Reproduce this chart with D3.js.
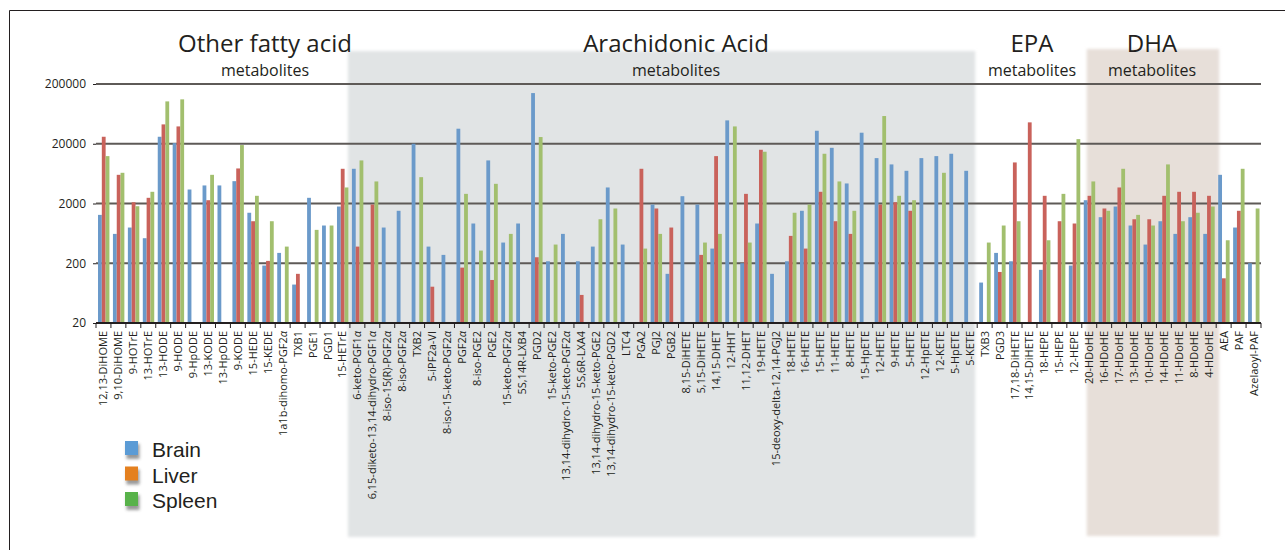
<!DOCTYPE html>
<html>
<head>
<meta charset="utf-8">
<script src="https://cdn.jsdelivr.net/npm/d3@7"></script>
<style>
  body { margin: 0; background: #fff; }
  text { font-family: "Open Sans", "Noto Sans", sans-serif; fill: #231f20; }
</style>
</head>
<body>
<div id="chart"></div>
<script>
// Eicosanoid levels per tissue (log scale)
const categories = [
  "12,13-DiHOME", "9,10-DiHOME", "9-HOTrE", "13-HOTrE", "13-HODE", "9-HODE", "9-HpODE",
  "13-KODE", "13-HpODE", "9-KODE", "15-HEDE", "15-KEDE", "1a1b-dihomo-PGF2α", "TXB1",
  "PGE1", "PGD1", "15-HETrE",
  "6-keto-PGF1α", "6,15-diketo-13,14-dihydro-PGF1α", "8-iso-15(R)-PGF2α", "8-iso-PGF2α",
  "TXB2", "5-iPF2a-VI", "8-iso-15-keto-PGF2α", "PGF2α", "8-iso-PGE2", "PGE2",
  "15-keto-PGF2α", "5S,14R-LXB4", "PGD2", "15-keto-PGE2", "13,14-dihydro-15-keto-PGF2α",
  "5S,6R-LXA4", "13,14-dihydro-15-keto-PGE2", "13,14-dihydro-15-keto-PGD2", "LTC4",
  "PGA2", "PGJ2", "PGB2", "8,15-DiHETE", "5,15-DiHETE", "14,15-DHET", "12-HHT",
  "11,12-DHET", "19-HETE", "15-deoxy-delta-12,14-PGJ2", "18-HETE", "16-HETE", "15-HETE",
  "11-HETE", "8-HETE", "15-HpETE", "12-HETE", "9-HETE", "5-HETE", "12-HpETE", "12-KETE",
  "5-HpETE", "5-KETE",
  "TXB3", "PGD3", "17,18-DiHETE", "14,15-DiHETE", "18-HEPE", "15-HEPE", "12-HEPE",
  "20-HDoHE", "16-HDoHE", "17-HDoHE", "13-HDoHE", "10-HDoHE", "14-HDoHE", "11-HDoHE",
  "8-HDoHE", "4-HDoHE",
  "AEA", "PAF", "Azelaoyl-PAF"
];

const brain = [
  1290, 620, 792, 525, 26180, 20500, 3430, 4010, 4010, 4730, 1400, 183, 298, 88, 2490, 856, 1780,
  7620, null, 792, 1510, 20000, 380, 276, 35700, 925, 10520, 444, 925, 141000, 216, 620,
  216, 380, 3710, 411, null, 1920, 133, 2650, 1920, 352, 49200, 200, 925, 133, 216, 1510,
  33000, 17100, 4330, 30600, 11500, 9020, 7050, 11500, 12420, 13600, 7050,
  95, 298, 216, null, 155, null, 183,
  2270, 1180, 1780, 856, 411, 1010, 620, 1180, 620,
  6040, 792, 200
];
const liver = [
  26180, 6040, 2100, 2490, 42180, 39000, null, 2270, null, 7720, 1010, 219, null, 133, null, null, 7620,
  380, 1920, null, null, null, 81, null, 169, null, 105, null, null, 252, null, null,
  59, null, null, null, 7620, 1650, 792, null, 276, 12420, null, 2900, 15860, null, 574, 352,
  3140, 1010, 620, null, 1920, 2100, 1510, null, null, null, null,
  null, 143, 9730, 45600, 2690, 1010, 925,
  2690, 1650, 3710, 1090, 1090, 2690, 3140, 3140, 2690,
  112, 1510, null
];
const spleen = [
  12420, 6530, 1800, 3140, 102300, 110700, null, 6040, null, 19000, 2690, 1010, 380, null, 724, 856, 3710,
  10520, 4680, null, null, 5520, null, null, 2900, 326, 4270, 620, null, 25900, 411, null,
  null, 1090, 1650, null, 352, 620, null, null, 444, 620, 39000, 444, 14700, null, 1400, 1920,
  13600, 4680, 1510, null, 58200, 2690, 2270, null, 6530, null, null,
  444, 856, 1010, null, 485, 2900, 23900,
  4680, 1510, 7620, 1290, 856, 9020, 1010, 1400, 1780,
  485, 7620, 1650
];

const seriesNames = ["Brain", "Liver", "Spleen"];
const barColors = ["#6b9aca", "#c9625b", "#a2bf6e"];
const legendColors = ["#5b9bd5", "#e4801f", "#58b24a"];
const yTicks = [20, 200, 2000, 20000, 200000];

// group headings: [title, subtitle, centre x]
const groups = [
  ["Other fatty acid", "metabolites", 265],
  ["Arachidonic Acid", "metabolites", 676],
  ["EPA", "metabolites", 1032],
  ["DHA", "metabolites", 1152]
];

const W = 1285, H = 550;
const svg = d3.select("#chart").append("svg")
  .attr("width", W)
  .attr("height", H);

const defs = svg.append("defs");
defs.append("filter").attr("id", "soft")
  .attr("x", "-5%").attr("y", "-5%").attr("width", "110%").attr("height", "110%")
  .append("feGaussianBlur").attr("stdDeviation", 1.6);
defs.append("filter").attr("id", "shadow")
  .attr("x", "-50%").attr("y", "-50%").attr("width", "200%").attr("height", "200%")
  .append("feGaussianBlur").attr("stdDeviation", 1.5);

const x = d3.scaleBand()
  .domain(categories)
  .range([96, 1261]);

const x1 = d3.scaleBand()
  .domain(seriesNames)
  .range([2, x.bandwidth() - 1.5]);

const y = d3.scaleLog()
  .domain([20, 200000])
  .range([323, 84]);

// frame
svg.append("path")
  .attr("d", "M9.5,560 V10.5 H1285")
  .attr("fill", "none")
  .attr("stroke", "#231f20")
  .attr("stroke-width", 1);

// shaded regions
const aaStart = x("6-keto-PGF1α"), aaEnd = x("5-KETE") + x.bandwidth();
svg.append("rect")
  .attr("x", aaStart - 2).attr("y", 51)
  .attr("width", aaEnd - aaStart).attr("height", 486)
  .attr("fill", "#e1e4e5")
  .attr("filter", "url(#soft)");

const dhaStart = x("20-HDoHE"), dhaEnd = x("4-HDoHE") + x.bandwidth();
svg.append("rect")
  .attr("x", dhaStart + 5).attr("y", 49)
  .attr("width", dhaEnd - dhaStart - 2).attr("height", 487)
  .attr("fill", "#e7dfd9")
  .attr("filter", "url(#soft)");

// gridlines
svg.append("g").selectAll("line")
  .data(yTicks.slice(1))
  .join("line")
    .attr("x1", 96).attr("x2", 1261)
    .attr("y1", d => y(d)).attr("y2", d => y(d))
    .attr("stroke", "#5e5a57")
    .attr("stroke-width", 2);

// y axis labels
const yAxis = svg.append("g")
  .attr("transform", "translate(96,0)")
  .call(d3.axisLeft(y).tickValues(yTicks).tickFormat(d3.format("d")).tickSize(3).tickPadding(7));
yAxis.select(".domain").remove();
yAxis.selectAll(".tick line").attr("stroke", "#231f20");
yAxis.selectAll("text")
  .style("font-size", "12px")
  .style("font-family", "'Open Sans', sans-serif")
  .attr("fill", "#231f20");

// bars
const table = categories.map((c, i) => ({
  cat: c,
  vals: [brain[i], liver[i], spleen[i]]
}));

svg.append("g").selectAll("g")
  .data(table)
  .join("g")
    .attr("transform", d => `translate(${x(d.cat)},0)`)
  .selectAll("rect")
  .data(d => d.vals.map((v, k) => ({ v, k })).filter(e => e.v != null))
  .join("rect")
    .attr("x", e => x1(seriesNames[e.k]))
    .attr("width", x1.bandwidth())
    .attr("y", e => y(e.v))
    .attr("height", e => y(20) - y(e.v))
    .attr("fill", e => barColors[e.k]);

// x axis baseline and ticks
const xAxis = svg.append("g")
  .attr("transform", `translate(0,${y(20)})`);
xAxis.append("line")
  .attr("x1", 96).attr("x2", 1261)
  .attr("stroke", "#231f20").attr("stroke-width", 2);
xAxis.selectAll("line.tk")
  .data(categories.concat([null]))
  .join("line")
    .attr("class", "tk")
    .attr("x1", (d, i) => d ? x(d) : x(categories[categories.length - 1]) + x.bandwidth())
    .attr("x2", (d, i) => d ? x(d) : x(categories[categories.length - 1]) + x.bandwidth())
    .attr("y1", 0).attr("y2", 5)
    .attr("stroke", "#231f20").attr("stroke-width", 1);

// category labels (rotated, alpha in italics)
const lbl = svg.append("g").selectAll("text")
  .data(categories)
  .join("text")
    .attr("transform", d => `translate(${x(d) + x.bandwidth() / 2 + 4},331) rotate(-90)`)
    .attr("text-anchor", "end")
    .style("font-size", "11px");
lbl.each(function(d) {
  const parts = d.split("α");
  const t = d3.select(this);
  parts.forEach((p, i) => {
    t.append("tspan").text(p);
    if (i < parts.length - 1) t.append("tspan").style("font-style", "italic").text("α");
  });
});

// group headings
const gh = svg.append("g").selectAll("g")
  .data(groups)
  .join("g");
gh.append("text")
  .attr("x", d => d[2]).attr("y", 52)
  .attr("text-anchor", "middle")
  .style("font-size", "24px")
  .text(d => d[0]);
gh.append("text")
  .attr("x", d => d[2]).attr("y", 76)
  .attr("text-anchor", "middle")
  .style("font-size", "16px")
  .text(d => d[1]);

// legend
const lg = svg.append("g").selectAll("g")
  .data(seriesNames)
  .join("g")
    .attr("transform", (d, i) => `translate(125,${441 + i * 25.5})`);
lg.append("rect")
  .attr("x", 1.5).attr("y", 3).attr("width", 13).attr("height", 15)
  .attr("fill", "#555").attr("opacity", 0.6)
  .attr("filter", "url(#shadow)");
lg.append("rect")
  .attr("width", 13).attr("height", 14)
  .attr("fill", (d, i) => legendColors[i]);
lg.append("text")
  .attr("x", 27).attr("y", 16)
  .style("font-family", "'Liberation Sans', Arial, sans-serif")
  .style("font-size", "21px")
  .text(d => d);
</script>
</body>
</html>
